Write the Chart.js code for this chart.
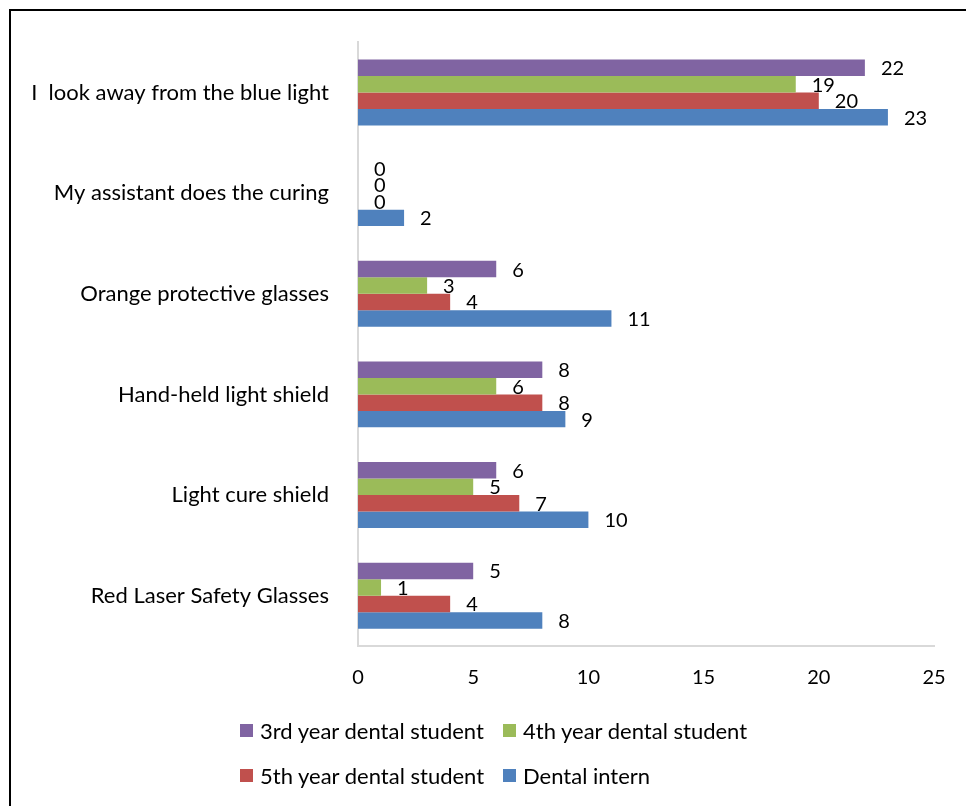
<!DOCTYPE html>
<html>
<head>
<meta charset="utf-8">
<script src="https://cdn.jsdelivr.net/npm/chart.js@4/dist/chart.umd.min.js"></script>
<style>
  html, body { margin: 0; padding: 0; background: #ffffff; }
  #wrap { position: relative; width: 966px; height: 806px; overflow: hidden; }
  #frame { position: absolute; left: 9px; top: 9px; width: 980px; height: 820px;
           border-top: 2px solid #000; border-left: 2px solid #000; box-sizing: border-box; pointer-events: none; }
  canvas { position: absolute; left: 0; top: 0; }
  #legend { position: absolute; left: 240px; top: 716px; display: grid;
            grid-template-columns: 263px auto; row-gap: 17px;
            font-family: Lato, "Open Sans", sans-serif; font-size: 22px; color: #000; }
  .item { display: flex; align-items: center; height: 28px; white-space: nowrap; }
  .box { width: 13px; height: 13px; margin-right: 7px; flex: none; }
</style>
</head>
<body>
<div id="wrap">
  <canvas id="c" width="966" height="806"></canvas>
  <div id="frame"></div>
  <div id="legend"></div>
</div>
<script>
const categories = [
  "I  look away from the blue light",
  "My assistant does the curing",
  "Orange protective glasses",
  "Hand-held light shield",
  "Light cure shield",
  "Red Laser Safety Glasses"
];
const seriesNames = [
  "3rd year dental student",
  "4th year dental student",
  "5th year dental student",
  "Dental intern"
];
const thirdYear  = [22, 0, 6, 8, 6, 5];
const fourthYear = [19, 0, 3, 6, 5, 1];
const fifthYear  = [20, 0, 4, 8, 7, 4];
const intern     = [23, 2, 11, 9, 10, 8];
const xTicks = [0, 5, 10, 15, 20, 25];
const colors = ["#8064A2", "#9BBB59", "#C0504D", "#4F81BD"];

const seriesValues = [thirdYear, fourthYear, fifthYear, intern];
const FONT = "Lato, 'Open Sans', sans-serif";

const valueLabels = {
  id: 'valueLabels',
  afterDatasetsDraw(chart) {
    const ctx = chart.ctx;
    ctx.save();
    ctx.font = "20px " + FONT;
    ctx.fillStyle = "#000";
    ctx.textAlign = "left";
    ctx.textBaseline = "middle";
    chart.data.datasets.forEach((ds, i) => {
      const meta = chart.getDatasetMeta(i);
      meta.data.forEach((bar, j) => {
        ctx.fillText(String(ds.data[j]), bar.x + 16, bar.y + 1);
      });
    });
    ctx.restore();
  }
};

new Chart(document.getElementById('c'), {
  type: 'bar',
  data: {
    labels: categories,
    datasets: seriesNames.map((name, i) => ({
      label: name,
      data: seriesValues[i],
      backgroundColor: colors[i],
      borderWidth: 0,
      categoryPercentage: 0.655,
      barPercentage: 1.0
    }))
  },
  options: {
    indexAxis: 'y',
    responsive: false,
    animation: false,
    layout: { padding: { left: 0, top: 40, right: 32, bottom: 110 } },
    plugins: {
      legend: { display: false },
      tooltip: { enabled: false }
    },
    scales: {
      x: {
        min: 0, max: 25,
        afterBuildTicks(scale) { scale.ticks = xTicks.map(v => ({ value: v })); },
        afterFit(scale) { scale.height = 50; },
        grid: { display: false, drawTicks: false },
        border: { display: true, color: "#d9d9d9", width: 2 },
        ticks: { color: "#000", font: { family: FONT, size: 20 }, padding: 20 }
      },
      y: {
        afterFit(scale) { scale.width = 358; },
        grid: { display: false, drawTicks: false },
        border: { display: true, color: "#d9d9d9", width: 2 },
        ticks: { color: "#000", font: { family: FONT, size: 22 }, padding: 29 }
      }
    }
  },
  plugins: [valueLabels]
});

const legend = document.getElementById('legend');
seriesNames.forEach((name, i) => {
  const item = document.createElement('div');
  item.className = 'item';
  const box = document.createElement('span');
  box.className = 'box';
  box.style.background = colors[i];
  const txt = document.createElement('span');
  txt.textContent = name;
  item.appendChild(box);
  item.appendChild(txt);
  legend.appendChild(item);
});
</script>
</body>
</html>
